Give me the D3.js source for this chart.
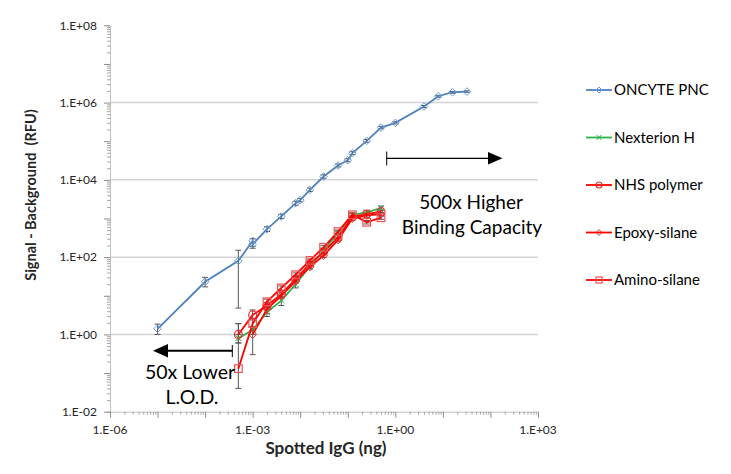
<!DOCTYPE html>
<html><head><meta charset="utf-8">
<script src="https://cdn.jsdelivr.net/npm/d3@7"></script>
<style>body{margin:0;background:#fff;} text{font-family: Lato, "Open Sans", sans-serif; white-space: pre;}</style>
</head><body><svg id="c" width="731" height="474"></svg>
<script>
// ---- data ----
const xTickLabels = ["1.E-06", "1.E-03", "1.E+00", "1.E+03"];
const xTickValues = [1e-6, 1e-3, 1e0, 1e3];
const yTickLabels = ["1.E-02", "1.E+00", "1.E+02", "1.E+04", "1.E+06", "1.E+08"];
const yTickValues = [1e-2, 1e0, 1e2, 1e4, 1e6, 1e8];

const oncyteX  = [1e-5, 1e-4, 5e-4, 1e-3, 1e-3, 2e-3, 4e-3, 8e-3, 1e-2, 0.016, 0.031, 0.0625, 0.1, 0.125, 0.25, 0.5, 1, 4, 8, 16, 32];
const oncyteY  = [1.4, 23, 80, 265, 215, 530, 1130, 2490, 2980, 5500, 12200, 23500, 32300, 49000, 102000, 226000, 298000, 790000, 1460000, 1850000, 1930000];
const oncyteLo = [1.0, 17, 4.8, 170, 190, 460, 1000, 2200, 2700, 5000, 11000, 21500, 29500, 45000, 94000, 210000, 280000, 740000, 1380000, 1750000, 1850000];
const oncyteHi = [1.85, 30, 151, 300, 240, 610, 1280, 2800, 3300, 6100, 13500, 25700, 35300, 53500, 111000, 243000, 318000, 840000, 1540000, 1950000, 2010000];

const surfX = [5e-4, 1e-3, 2e-3, 4e-3, 8e-3, 0.016, 0.031, 0.0625, 0.125, 0.25, 0.5];
const nexterionY  = [0.8, 1.3, 3.8, 7.5, 20, 58, 150, 420, 1250, 1450, 1850];
const nexterionLo = [0.6, 1.0, 2.9, 5.6, 16, 50, 130, 370, 1100, 1300, 1650];
const nexterionHi = [1.0, 1.6, 4.8, 9.5, 24, 66, 170, 470, 1400, 1600, 2100];
const nhsY  = [1.0, 3.2, 5.5, 11, 27, 68, 135, 330, 1100, 1300, 1500];
const nhsLo = [0.6, 2.4, 4.5, 9, 23, 60, 120, 300, 1000, 1180, 1370];
const nhsHi = [1.9, 4.3, 6.6, 13, 31, 76, 150, 365, 1200, 1420, 1640];
const epoxyY  = [null, 1.0, 4.5, 10, 24, 56, 110, 280, 1000, 1200, 1300];
const epoxyLo = [null, 0.3, 3.5, 8.5, 21, 50, 98, 250, 900, 1080, 1180];
const epoxyHi = [null, 1.5, 5.6, 12, 27, 63, 124, 315, 1110, 1330, 1430];
const aminoY  = [0.13, 1.9, 7.0, 16, 35, 82, 180, 460, 1250, 800, 1050];
const aminoLo = [0.04, 1.3, 6.0, 14, 31, 74, 162, 415, 1130, 720, 950];
const aminoHi = [1.9, 2.6, 8.2, 18, 39, 90, 198, 505, 1380, 890, 1160];

const seriesNames = ["ONCYTE PNC", "Nexterion H", "NHS polymer", "Epoxy-silane", "Amino-silane"];

// ---- layout ----
const svg = d3.select("#c");
const x = d3.scaleLog().domain([1e-6, 1e3]).range([110, 538]);
const y = d3.scaleLog().domain([1e-2, 1e8]).range([411.7, 25.3]);

// gridlines
svg.append("g").selectAll("line").data(yTickValues.slice(1, 5)).join("line")
  .attr("x1", x(1e-6)).attr("x2", x(1e3))
  .attr("y1", d => y(d)).attr("y2", d => y(d))
  .attr("stroke", "#d4d4d4").attr("stroke-width", 1.5);

// minor ticks
const yMinor = [];
for (let e = -2; e < 8; e++) for (let k = 1; k <= 9; k++) yMinor.push(k * Math.pow(10, e));
yMinor.push(1e8);
const xMinor = [];
for (let e = -6; e < 3; e++) for (let k = 1; k <= 9; k++) xMinor.push(k * Math.pow(10, e));
xMinor.push(1e3);

const yAxis = d3.axisLeft(y).tickValues(yMinor).tickSize(3).tickFormat("");
const gy = svg.append("g").attr("transform", `translate(${x(1e-6)},0)`).call(yAxis);
gy.selectAll("line").attr("stroke", "#a6a6a6");
gy.select(".domain").attr("stroke", "#bfbfbf");
gy.selectAll(".tick").filter(d => Math.abs(Math.log10(d) - Math.round(Math.log10(d))) < 1e-9)
  .select("line").attr("x2", -6).attr("stroke", "#8c8c8c");

const xAxis = d3.axisBottom(x).tickValues(xMinor).tickSize(3).tickFormat("");
const gx = svg.append("g").attr("transform", `translate(0,${y(1e-2)})`).call(xAxis);
gx.selectAll("line").attr("stroke", "#a6a6a6");
gx.select(".domain").attr("stroke", "#bfbfbf");
gx.selectAll(".tick").filter(d => Math.abs(Math.log10(d) - Math.round(Math.log10(d))) < 1e-9)
  .select("line").attr("y2", 6).attr("stroke", "#8c8c8c");

// tick labels
svg.append("g").selectAll("text").data(yTickValues).join("text")
  .attr("x", 97).attr("y", d => y(d)).attr("dy", "0.35em")
  .attr("text-anchor", "end").attr("font-size", 12).attr("fill", "#262626")
  .text((d, i) => yTickLabels[i]);
svg.append("g").selectAll("text").data(xTickValues).join("text")
  .attr("x", d => x(d)).attr("y", 430).attr("dy", "0.35em")
  .attr("text-anchor", "middle").attr("font-size", 12).attr("fill", "#262626")
  .text((d, i) => xTickLabels[i]);

// axis titles
svg.append("text").attr("transform", "translate(36,195) rotate(-90)")
  .attr("text-anchor", "middle").attr("font-size", 14.5).attr("font-weight", "bold").attr("fill", "#262626")
  .text("Signal - Background  (RFU)");
svg.append("text").attr("x", 326).attr("y", 454)
  .attr("text-anchor", "middle").attr("font-size", 17).attr("font-weight", "bold").attr("fill", "#262626")
  .text("Spotted IgG (ng)");

// marker shapes
function marker(g, type, color, cx, cy, s) {
  if (type === "diamond") {
    g.append("path").attr("d", `M${cx},${cy - s}L${cx + s},${cy}L${cx},${cy + s}L${cx - s},${cy}Z`)
      .attr("fill", "none").attr("stroke", color).attr("stroke-width", 1);
  } else if (type === "circle") {
    g.append("circle").attr("cx", cx).attr("cy", cy).attr("r", s)
      .attr("fill", "none").attr("stroke", color).attr("stroke-width", 1.2);
  } else if (type === "square") {
    g.append("rect").attr("x", cx - s).attr("y", cy - s).attr("width", 2 * s).attr("height", 2 * s)
      .attr("fill", "none").attr("stroke", color).attr("stroke-width", 1.2);
  } else if (type === "x") {
    g.append("path").attr("d", `M${cx - s},${cy - s}L${cx + s},${cy + s}M${cx - s},${cy + s}L${cx + s},${cy - s}`)
      .attr("stroke", color).attr("stroke-width", 1);
  }
}

const series = [
  { name: seriesNames[0], xs: oncyteX, ys: oncyteY, lo: oncyteLo, hi: oncyteHi, color: "#4f81bd", mcolor: "#6b9bd1", type: "diamond", s: 3.8 },
  { name: seriesNames[1], xs: surfX, ys: nexterionY, lo: nexterionLo, hi: nexterionHi, color: "#2eb04a", mcolor: "#2eb04a", type: "x", s: 3 },
  { name: seriesNames[2], xs: surfX, ys: nhsY, lo: nhsLo, hi: nhsHi, color: "#ff0000", mcolor: "#e83030", type: "circle", s: 4 },
  { name: seriesNames[3], xs: surfX, ys: epoxyY, lo: epoxyLo, hi: epoxyHi, color: "#ff0000", mcolor: "#e83030", type: "diamond", s: 4 },
  { name: seriesNames[4], xs: surfX, ys: aminoY, lo: aminoLo, hi: aminoHi, color: "#ff0000", mcolor: "#f05050", type: "square", s: 3.8 }
];

const plot = svg.append("g");
// error bars
series.forEach(sr => {
  const g = plot.append("g").attr("stroke", "#595959").attr("stroke-width", 1);
  sr.xs.forEach((xv, i) => {
    if (sr.ys[i] == null) return;
    const px = x(xv), y1 = y(sr.lo[i]), y2 = y(sr.hi[i]);
    g.append("line").attr("x1", px).attr("x2", px).attr("y1", y1).attr("y2", y2);
    g.append("line").attr("x1", px - 3).attr("x2", px + 3).attr("y1", y1).attr("y2", y1);
    g.append("line").attr("x1", px - 3).attr("x2", px + 3).attr("y1", y2).attr("y2", y2);
  });
});
// lines and markers
series.forEach(sr => {
  const pts = sr.xs.map((xv, i) => [xv, sr.ys[i]]).filter(p => p[1] != null);
  plot.append("path").datum(pts)
    .attr("d", d3.line().x(p => x(p[0])).y(p => y(p[1])))
    .attr("fill", "none").attr("stroke", sr.color).attr("stroke-width", 1.8);
  const mg = plot.append("g");
  pts.forEach(p => marker(mg, sr.type, sr.mcolor, x(p[0]), y(p[1]), sr.s));
});

// legend
const leg = svg.append("g");
series.forEach((sr, i) => {
  const ly = 90 + i * 47.5;
  leg.append("line").attr("x1", 586).attr("x2", 612).attr("y1", ly).attr("y2", ly)
    .attr("stroke", sr.color).attr("stroke-width", 1.8);
  marker(leg, sr.type, sr.mcolor, 599, ly, sr.type === "x" ? 2.5 : 3);
  leg.append("text").attr("x", 614).attr("y", ly).attr("dy", "0.35em")
    .attr("font-size", 15).attr("fill", "#000").text(sr.name);
});

// annotations
const ann = svg.append("g").attr("stroke", "#000");
ann.append("line").attr("x1", 386.7).attr("x2", 386.7).attr("y1", 151.5).attr("y2", 165.5).attr("stroke-width", 1);
ann.append("line").attr("x1", 386.7).attr("x2", 490).attr("y1", 158.3).attr("y2", 158.3).attr("stroke-width", 1.3);
ann.append("path").attr("d", "M488,152L502.5,158.3L488,164.6Z").attr("fill", "#000").attr("stroke", "none");
ann.append("line").attr("x1", 232.3).attr("x2", 232.3).attr("y1", 345).attr("y2", 357).attr("stroke-width", 1);
ann.append("line").attr("x1", 232.3).attr("x2", 166).attr("y1", 350.8).attr("y2", 350.8).attr("stroke-width", 2);
ann.append("path").attr("d", "M168,344L153,350.8L168,357.6Z").attr("fill", "#000").attr("stroke", "none");

svg.append("text").attr("x", 471).attr("y", 202).attr("dy", "0.35em").attr("text-anchor", "middle")
  .attr("font-size", 19).attr("fill", "#000").text("500x Higher");
svg.append("text").attr("x", 472).attr("y", 227).attr("dy", "0.35em").attr("text-anchor", "middle")
  .attr("font-size", 19).attr("fill", "#000").text("Binding Capacity");
svg.append("text").attr("x", 190).attr("y", 372).attr("dy", "0.35em").attr("text-anchor", "middle")
  .attr("font-size", 19.5).attr("fill", "#000").text("50x Lower");
svg.append("text").attr("x", 192).attr("y", 397).attr("dy", "0.35em").attr("text-anchor", "middle")
  .attr("font-size", 19.5).attr("fill", "#000").text("L.O.D.");
</script></body></html>
